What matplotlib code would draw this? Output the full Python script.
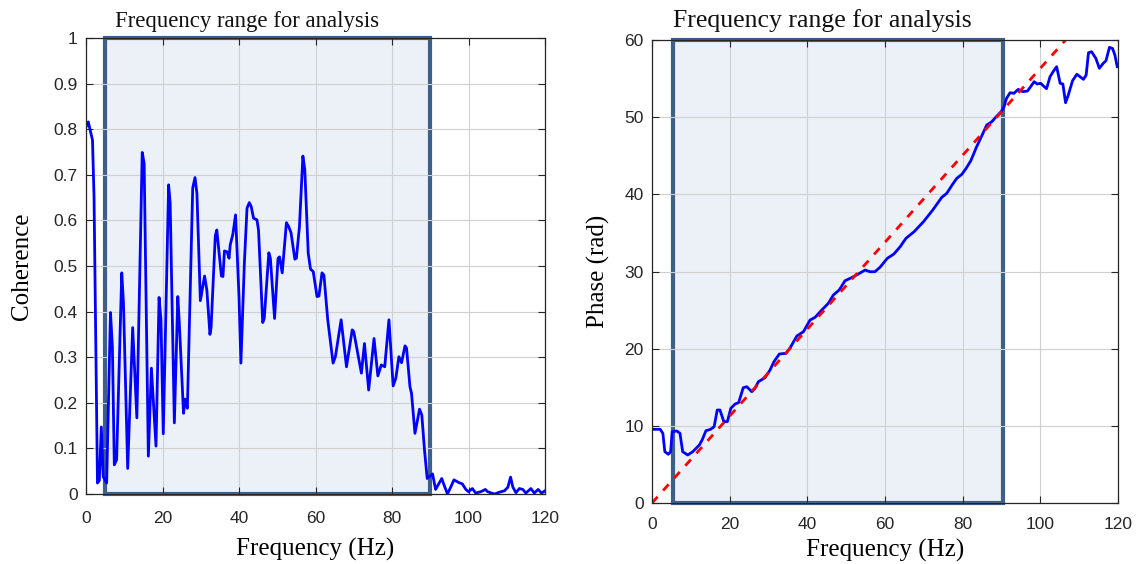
import matplotlib
matplotlib.use("Agg")
import matplotlib.pyplot as plt
from matplotlib.patches import Rectangle

# ---------------- data ----------------
coh_freq = [0, 0.6, 1.7, 2.1, 3.0, 3.5, 4.0, 4.5, 5.4, 6.4, 6.9, 7.4, 8.0, 9.35, 9.8,
            10.9, 12.2, 13.3, 14.7, 15.2, 16.3, 17.1, 18.3, 19.1, 19.6, 20.2, 21.6,
            22.0, 23.1, 24.0, 24.4, 25.5, 25.9, 26.5, 27.9, 28.5, 29.0, 29.9, 31.0,
            31.6, 32.4, 32.7, 33.8, 34.2, 35.4, 35.8, 36.2, 36.9, 37.4, 37.7, 38.4,
            39.1, 40.0, 40.5, 41.4, 42.1, 42.7, 43.2, 43.8, 44.7, 45.1, 46.2, 46.6,
            47.8, 48.2, 49.3, 50.2, 50.6, 51.3, 52.4, 53.0, 53.6, 54.6, 55.0, 55.8,
            56.7, 57.2, 58.1, 58.7, 59.4, 60.4, 60.9, 61.7, 62.2, 63.2, 64.6, 65.2,
            66.7, 68.1, 69.6, 70.0, 72.0, 72.8, 73.9, 75.3, 76.3, 77.2, 78.1, 79.2,
            80.3, 81.0, 81.8, 82.5, 83.4, 83.8, 84.7, 85.1, 86.0, 87.2, 87.8, 88.5,
            89.2, 90.6, 91.4, 93.0, 93.6, 94.5, 95.4, 96.2, 97.5, 98.4, 99.3, 100.0,
            101.0, 101.9, 103.2, 104.4, 105.0, 106.0, 106.8, 108.1, 109.4, 110.3,
            111.0, 111.6, 112.4, 113.3, 114.2, 115.0, 116.3, 117.2, 118.2, 119.1, 120.0]
coherence = [0.805, 0.816, 0.776, 0.652, 0.024, 0.03, 0.147, 0.038, 0.024, 0.398, 0.323,
             0.064, 0.075, 0.485, 0.418, 0.056, 0.365, 0.167, 0.749, 0.725, 0.083, 0.276,
             0.105, 0.431, 0.382, 0.132, 0.678, 0.638, 0.156, 0.433, 0.374, 0.177, 0.208,
             0.188, 0.671, 0.694, 0.659, 0.424, 0.478, 0.447, 0.350, 0.365, 0.566, 0.579,
             0.478, 0.477, 0.533, 0.531, 0.517, 0.546, 0.570, 0.612, 0.433, 0.287, 0.506,
             0.627, 0.639, 0.630, 0.605, 0.601, 0.579, 0.376, 0.385, 0.529, 0.517, 0.385,
             0.517, 0.520, 0.485, 0.595, 0.586, 0.573, 0.515, 0.517, 0.586, 0.741, 0.711,
             0.528, 0.493, 0.488, 0.433, 0.434, 0.485, 0.480, 0.382, 0.287, 0.301, 0.382,
             0.279, 0.360, 0.356, 0.265, 0.330, 0.228, 0.341, 0.259, 0.283, 0.279, 0.382,
             0.237, 0.254, 0.301, 0.288, 0.325, 0.320, 0.235, 0.221, 0.133, 0.186, 0.173,
             0.096, 0.034, 0.044, 0.010, 0.034, 0.020, 0.0, 0.016, 0.031, 0.025, 0.022,
             0.010, 0.005, 0.012, 0.002, 0.005, 0.010, 0.005, 0.002, 0.0, 0.004, 0.007,
             0.015, 0.037, 0.015, 0.003, 0.012, 0.010, 0.002, 0.012, 0.002, 0.010, 0.002,
             0.007]

ph_freq = [0.1, 2.1, 2.8, 3.3, 4.2, 4.8, 5.2, 6.4, 7.2, 7.9, 9.2, 10.5, 12.2, 12.9,
           13.9, 15.1, 16.0, 16.8, 17.5, 18.5, 19.4, 20.3, 21.4, 22.3, 23.5, 24.4,
           25.7, 26.5, 27.4, 29.1, 30.4, 31.4, 32.8, 34.5, 35.5, 37.3, 39.0, 40.7,
           42.0, 43.7, 45.4, 46.7, 48.2, 49.7, 51.4, 53.1, 54.9, 56.1, 57.4, 58.7,
           60.6, 62.3, 63.9, 65.4, 67.5, 69.9, 72.3, 74.6, 75.9, 77.4, 78.5, 79.8,
           80.9, 82.1, 83.6, 84.9, 86.2, 87.5, 88.8, 89.9, 90.6, 91.3, 92.2, 93.2,
           94.3, 95.5, 96.7, 97.5, 98.4, 99.2, 100.1, 100.8, 101.6, 102.5, 103.3,
           104.2, 105.1, 105.8, 106.5, 107.2, 108.3, 109.4, 110.2, 111.1, 111.8,
           112.4, 113.2, 114.3, 115.2, 116.2, 116.9, 117.8, 118.6, 119.2, 119.8]
phase = [9.55, 9.55, 9.03, 6.65, 6.31, 6.65, 9.24, 9.33, 9.03, 6.65, 6.22, 6.65, 7.52,
         8.16, 9.37, 9.55, 9.89, 12.05, 12.05, 10.54, 10.54, 12.27, 12.83, 13.0, 14.94,
         15.07, 14.42, 14.86, 15.72, 16.24, 17.23, 18.31, 19.31, 19.40, 20.05, 21.64,
         22.2, 23.71, 24.06, 25.0, 25.87, 26.95, 27.6, 28.8, 29.2, 29.67, 30.19, 29.97,
         29.97, 30.54, 31.71, 32.27, 33.21, 34.3, 35.16, 36.45, 37.97, 39.6, 40.13,
         41.3, 42.08, 42.6, 43.37, 44.36, 46.17, 47.56, 48.98, 49.41, 50.15, 50.71,
         51.28, 52.44, 53.17, 53.09, 53.6, 53.3, 53.39, 53.95, 54.6, 54.3, 54.39,
         54.04, 53.69, 55.25, 55.9, 56.54, 54.39, 54.3, 51.87, 52.87, 54.73, 55.56,
         55.25, 54.9, 55.46, 58.35, 58.48, 57.62, 56.33, 56.98, 57.31, 59.05, 58.9,
         58.05, 56.54]

fit_freq = [0, 120]
fit_phase = [0, 67.6]

coh_band = [5.0, 90.0]
ph_band = [5.5, 90.4]

coh_yticks = [0, 0.1, 0.2, 0.3, 0.4, 0.5, 0.6, 0.7, 0.8, 0.9, 1]
coh_yticklabels = ["0", "0.1", "0.2", "0.3", "0.4", "0.5", "0.6", "0.7", "0.8", "0.9", "1"]
xticks = [0, 20, 40, 60, 80, 100, 120]
ph_yticks = [0, 10, 20, 30, 40, 50, 60]

title_text = "Frequency range for analysis"

# ---------------- figure ----------------
W, H = 1139, 564
fig = plt.figure(figsize=(W / 100, H / 100), dpi=100)

serif = ["Liberation Serif", "DejaVu Serif"]
sans = ["Liberation Sans", "DejaVu Sans"]
band_face = "#ecf1f8"
band_edge = "#3d5f8b"
grid_col = "#d0d0d0"


def style_axes(ax, xpad):
    ax.tick_params(direction="in", top=True, right=True, length=5, width=0.8,
                   labelsize=12.5, colors="#262626")
    ax.tick_params(axis="x", pad=xpad)
    ax.tick_params(axis="y", pad=6)
    ax.grid(True, color=grid_col, linewidth=0.8, zorder=1.5)
    ax.set_axisbelow(False)
    for s in ax.spines.values():
        s.set_color("#262626")
        s.set_linewidth(0.9)
        s.set_zorder(5)
    ax.set_xticks(xticks)
    ax.set_xticklabels([str(t) for t in xticks], fontfamily=sans)


# left axes
ax1 = fig.add_axes([86 / W, (H - 494) / H, 459 / W, 456 / H])
ax1.add_patch(Rectangle((coh_band[0], 0), coh_band[1] - coh_band[0], 1,
                        facecolor=band_face, edgecolor=band_edge, linewidth=3,
                        zorder=1, clip_on=False))
ax1.plot(coh_freq, coherence, color="#0000ff", linewidth=2, zorder=3)
ax1.set_xlim(0, 120)
ax1.set_ylim(0, 1)
ax1.set_yticks(coh_yticks)
ax1.set_yticklabels(coh_yticklabels, fontfamily=sans)
style_axes(ax1, 12)
ax1.set_xlabel("Frequency (Hz)", fontfamily=serif, fontsize=18, labelpad=9)
ax1.set_ylabel("Coherence", fontfamily=serif, fontsize=18, labelpad=15)

# right axes
ax2 = fig.add_axes([652 / W, (H - 503) / H, 466 / W, 463 / H])
ax2.add_patch(Rectangle((ph_band[0], 0), ph_band[1] - ph_band[0], 60,
                        facecolor=band_face, edgecolor=band_edge, linewidth=3,
                        zorder=1, clip_on=False))
ax2.plot(ph_freq, phase, color="#0000ff", linewidth=2, zorder=3)
ax2.plot(fit_freq, fit_phase, color="#ff0000", linewidth=2, linestyle=(0, (3, 3)), zorder=3)
ax2.set_xlim(0, 120)
ax2.set_ylim(0, 60)
ax2.set_yticks(ph_yticks)
ax2.set_yticklabels([str(t) for t in ph_yticks], fontfamily=sans)
style_axes(ax2, 10)
ax2.set_xlabel("Frequency (Hz)", fontfamily=serif, fontsize=18, labelpad=5)
ax2.set_ylabel("Phase (rad)", fontfamily=serif, fontsize=18, labelpad=10)

# titles
fig.text(247.5 / W, 1 - 21 / H, title_text, fontfamily=serif, fontsize=16.4,
         ha="center", va="center", color="#111111")
fig.text(822 / W, 1 - 21 / H, title_text, fontfamily=serif, fontsize=18.5,
         ha="center", va="center", color="#111111")

fig.savefig("out.png", dpi=100, facecolor="white")
